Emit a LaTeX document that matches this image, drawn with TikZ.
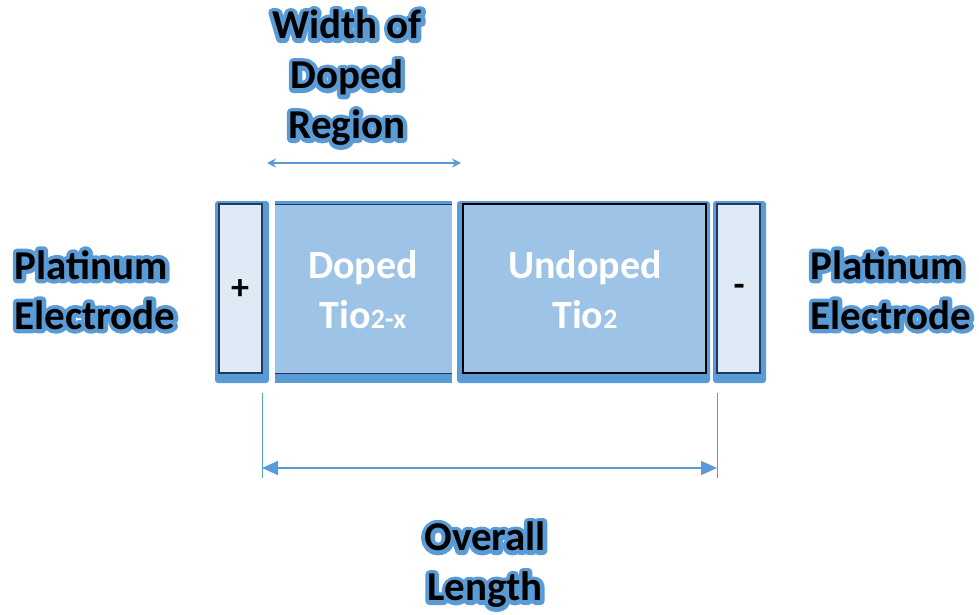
\documentclass[tikz,border=0pt]{standalone}
\usepackage{fontspec}
\setmainfont{Carlito}
\newfontfamily\glowfont{Carlito Bold}[FakeBold=20]
\newfontfamily\boldfont{Carlito Bold}
\usetikzlibrary{arrows.meta}
\definecolor{glowblue}{HTML}{5B9BD5}
\definecolor{regionfill}{HTML}{9DC3E6}
\definecolor{electrodefill}{HTML}{DEEAF6}
\definecolor{navy}{HTML}{1F3864}
\newcommand{\glowlabel}[5]{% name, position, text, size, align
  \node[align=#5,text=glowblue,line join=round,font=\glowfont\fontsize{#4}{50}\selectfont] at (#2) {#3};
  \node[align=#5,text=black,font=\boldfont\fontsize{#4}{50}\selectfont] (#1) at (#2) {#3};
}
\begin{document}
\begin{tikzpicture}[x=1pt,y=-1pt,
  inner/.style={align=center,text=white,font=\boldfont\fontsize{40}{50}\selectfont},
  sign/.style={font=\boldfont\fontsize{36}{40}\selectfont},
  dimline/.style={glowblue,line width=1.6pt},
  shadowbox/.style={fill=glowblue,rounded corners=3pt},
]
\useasboundingbox (0,0) rectangle (979,615);
% left electrode
\fill[shadowbox] (215,201) rectangle (269,383);
\draw[navy,line width=1.5pt,fill=electrodefill] (219,204) rectangle (262,373);
\node[sign] (plus) at (240,290) {+};
% doped region
\fill[glowblue] (275,201) rectangle (452,383);
\fill[regionfill] (275,204) rectangle (452,373);
\draw[navy,line width=1pt] (275,204) -- (452,204);
\draw[navy,line width=1pt] (275,373) -- (452,373);
\node[inner] (doped) at (363,290) {Doped\\Tio{\fontsize{28}{30}\selectfont 2-x}};
% undoped
\fill[shadowbox] (457,201) rectangle (710,383);
\draw[black,line width=1.5pt,fill=regionfill] (463,204) rectangle (706,373);
\node[inner] (undoped) at (585,290) {Undoped\\Tio{\fontsize{28}{30}\selectfont 2}};
% right electrode
\fill[shadowbox] (713,201) rectangle (766,383);
\draw[navy,line width=1.5pt,fill=electrodefill] (717,204) rectangle (760,373);
\node[sign] (minus) at (739,290) {-};
% labels
\glowlabel{lpt}{95,290}{Platinum\\Electrode}{41}{left}
\glowlabel{rpt}{891,290}{Platinum\\Electrode}{41}{left}
\glowlabel{width}{347,78}{Width of\\Doped\\Region}{41}{center}
\glowlabel{overall}{485,565}{Overall\\Length}{41}{center}
% width arrow
\coordinate (wa) at (267,163);
\coordinate (wb) at (461,163);
\draw[dimline,{Stealth[length=9pt,width=9pt,inset=3pt]}-{Stealth[length=9pt,width=9pt,inset=3pt]}] (wa) -- (wb);
% overall length
\coordinate (ot1) at (262,393);
\coordinate (ob1) at (262,478);
\coordinate (ot2) at (717,393);
\coordinate (ob2) at (717,478);
\draw[glowblue,line width=0.8pt] (ot1) -- (ob1);
\draw[glowblue,line width=0.8pt] (ot2) -- (ob2);
\coordinate (oa) at (262,468);
\coordinate (ob) at (717,468);
\draw[dimline,{Triangle[length=16pt,width=14pt]}-{Triangle[length=16pt,width=14pt]}] (oa) -- (ob);
\end{tikzpicture}
\end{document}
